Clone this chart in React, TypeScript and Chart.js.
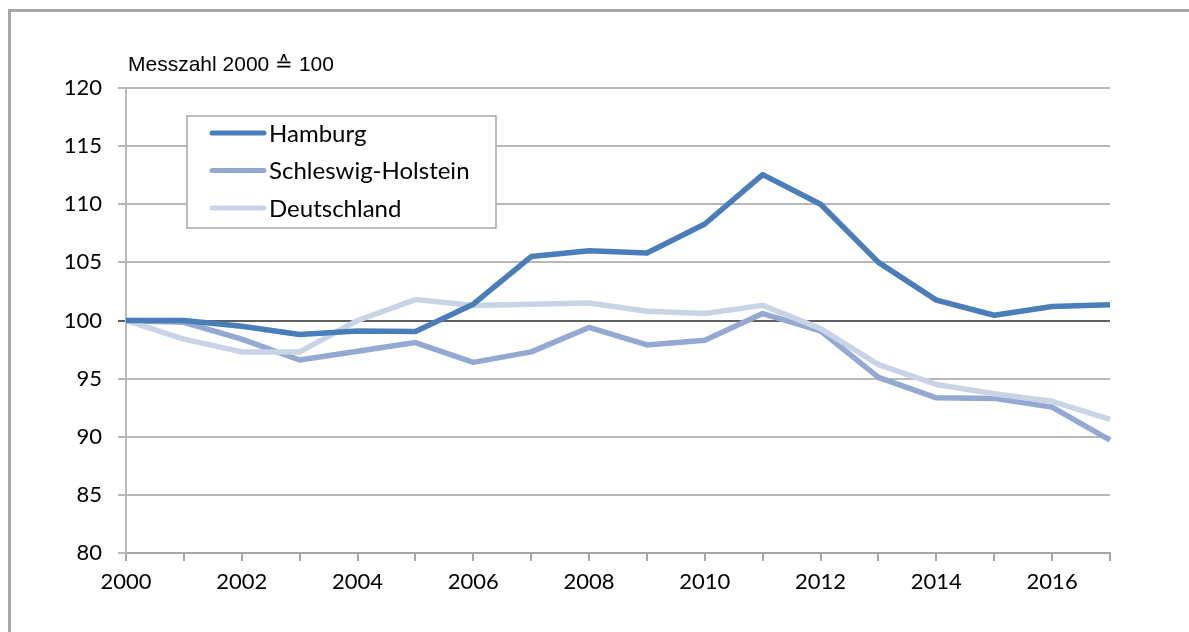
import React, { useEffect, useRef } from "react";
import { Chart, registerables } from "chart.js";

Chart.register(...registerables);

const years = ["2000","2001","2002","2003","2004","2005","2006","2007","2008","2009","2010","2011","2012","2013","2014","2015","2016","2017"];
const hamburg = [100, 100.0, 99.5, 98.8, 99.1, 99.05, 101.4, 105.5, 106.0, 105.8, 108.3, 112.55, 110.0, 105.0, 101.75, 100.45, 101.2, 101.35];
const schleswigHolstein = [100, 99.85, 98.4, 96.6, 97.35, 98.1, 96.4, 97.3, 99.4, 97.9, 98.3, 100.6, 99.1, 95.1, 93.35, 93.3, 92.55, 89.7];
const deutschland = [100, 98.4, 97.3, 97.3, 100.0, 101.8, 101.3, 101.4, 101.5, 100.8, 100.6, 101.3, 99.3, 96.2, 94.5, 93.7, 93.05, 91.5];
const seriesNames = ["Hamburg", "Schleswig-Holstein", "Deutschland"];
const seriesColors = ["#4a7ebb", "#93a9d2", "#c8d3e6"];
const unitLabel = "Messzahl 2000 \u2259 100";
const yMin = 80;
const yMax = 120;
const yStep = 5;
const referenceValue = 100;

const legendPlugin = {
  id: "boxLegend",
  afterDatasetsDraw(chart: any) {
    const ctx = chart.ctx;
    ctx.save();
    const bx = 187, by = 116, bw = 309, bh = 112;
    ctx.fillStyle = "#ffffff";
    ctx.fillRect(bx, by, bw, bh);
    ctx.strokeStyle = "#a6a6a6";
    ctx.lineWidth = 1.5;
    ctx.strokeRect(bx, by, bw, bh);
    ctx.font = "24px Lato";
    ctx.textBaseline = "middle";
    ctx.textAlign = "left";
    chart.data.datasets.forEach((ds: any, i: number) => {
      const y = 133 + i * 37.5;
      ctx.strokeStyle = ds.borderColor;
      ctx.lineWidth = 5;
      ctx.lineCap = "round";
      ctx.beginPath();
      ctx.moveTo(212, y);
      ctx.lineTo(264, y);
      ctx.stroke();
      ctx.fillStyle = "#000000";
      ctx.fillText(ds.label, 269, y + 1);
    });
    ctx.restore();
  },
  afterDraw(chart: any) {
    const ctx = chart.ctx;
    ctx.save();
    ctx.font = "21px 'Liberation Sans', Arial, sans-serif";
    ctx.fillStyle = "#000000";
    ctx.textBaseline = "middle";
    ctx.textAlign = "left";
    ctx.fillText(unitLabel, 128, 65);
    ctx.restore();
  },
};

export default function App() {
  const canvasRef = useRef<HTMLCanvasElement | null>(null);

  useEffect(() => {
    if (!canvasRef.current) return;
    const chart = new Chart(canvasRef.current, {
      type: "line",
      data: {
        labels: years,
        datasets: [
          { label: seriesNames[0], data: hamburg, borderColor: seriesColors[0], order: 0 },
          { label: seriesNames[1], data: schleswigHolstein, borderColor: seriesColors[1], order: 2 },
          { label: seriesNames[2], data: deutschland, borderColor: seriesColors[2], order: 1 },
        ].map((d) => ({
          ...d,
          borderWidth: 5.5,
          pointRadius: 0,
          tension: 0,
          fill: false,
          borderJoinStyle: "round" as const,
          borderCapStyle: "butt" as const,
        })),
      },
      options: {
        animation: false,
        responsive: true,
        maintainAspectRatio: false,
        layout: { padding: { left: 0, top: 88, right: 79, bottom: 0 } },
        plugins: { legend: { display: false }, tooltip: { enabled: false }, title: { display: false } },
        scales: {
          x: {
            type: "category",
            offset: false,
            afterFit(scale: any) { scale.height = 79; },
            grid: {
              drawOnChartArea: false,
              drawTicks: true,
              tickLength: 8,
              color: "#a6a6a6",
              lineWidth: 2,
            },
            border: { display: true, color: "#a6a6a6", width: 2 },
            ticks: {
              autoSkip: false,
              maxRotation: 0,
              padding: 8,
              color: "#000000",
              font: { family: "Lato", size: 22 },
              callback(this: any, value: any, index: number) {
                return index % 2 === 0 ? this.getLabelForValue(value) : "";
              },
            },
          },
          y: {
            min: yMin,
            max: yMax,
            afterFit(scale: any) { scale.width = 126; },
            grid: {
              drawOnChartArea: true,
              drawTicks: true,
              tickLength: 8,
              color: (c: any) => (c.tick && c.tick.value === referenceValue ? "#5f5f5f" : "#b8b8b8"),
              lineWidth: 2,
            },
            border: { display: true, color: "#b8b8b8", width: 2 },
            ticks: {
              stepSize: yStep,
              padding: 16,
              color: "#000000",
              font: { family: "Lato", size: 22 },
            },
          },
        },
      },
      plugins: [legendPlugin],
    });
    return () => chart.destroy();
  }, []);

  return (
    <div style={{ position: "fixed", left: 0, top: 0, width: 1189, height: 632, overflow: "hidden", background: "#fff" }}>
      <div
        style={{
          position: "absolute",
          left: 8,
          top: 9,
          width: 1300,
          height: 700,
          borderLeft: "3px solid #a6a6a6",
          borderTop: "3px solid #a6a6a6",
        }}
      />
      <div style={{ position: "absolute", left: 0, top: 0, width: 1189, height: 632 }}>
        <canvas ref={canvasRef} />
      </div>
    </div>
  );
}
